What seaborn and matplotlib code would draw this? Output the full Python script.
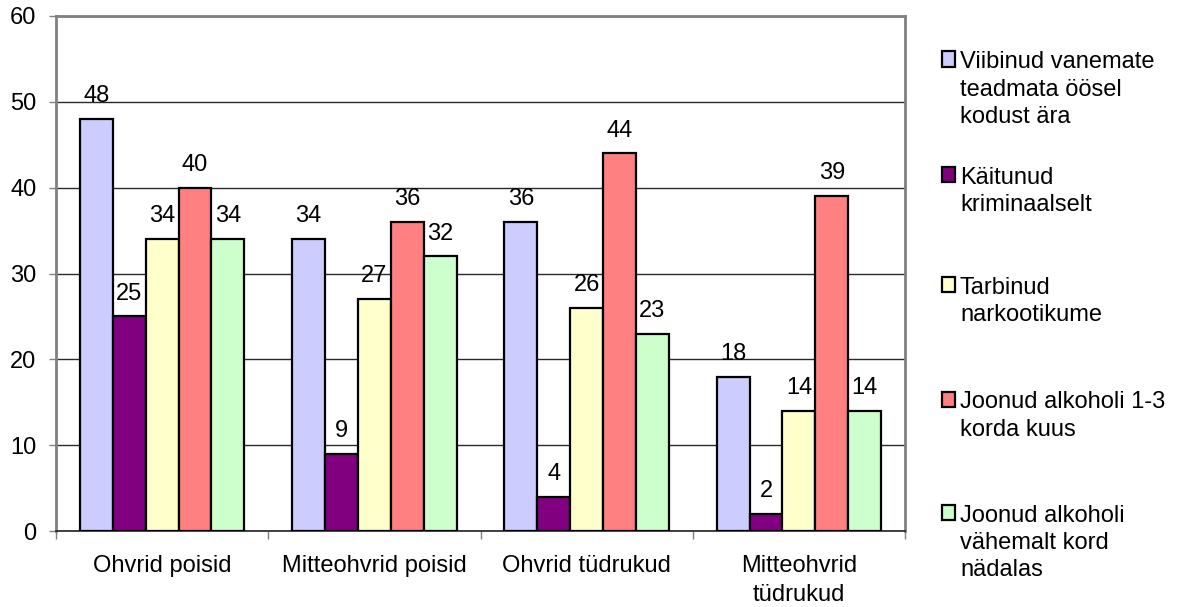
import matplotlib
matplotlib.use("Agg")
import matplotlib.pyplot as plt
from matplotlib.patches import Rectangle
from matplotlib.ticker import FixedLocator
import seaborn as sns
import pandas as pd

categories = ["Ohvrid poisid", "Mitteohvrid poisid", "Ohvrid tüdrukud", "Mitteohvrid\ntüdrukud"]
series = [
    "Viibinud vanemate\nteadmata öösel\nkodust ära",
    "Käitunud\nkriminaalselt",
    "Tarbinud\nnarkootikume",
    "Joonud alkoholi 1-3\nkorda kuus",
    "Joonud alkoholi\nvähemalt kord\nnädalas",
]
values = [
    [48, 34, 36, 18],
    [25, 9, 4, 2],
    [34, 27, 26, 14],
    [40, 36, 44, 39],
    [34, 32, 23, 14],
]
colors = ["#CCCCFF", "#800080", "#FFFFCC", "#FF8080", "#CCFFCC"]
yticks = [0, 10, 20, 30, 40, 50, 60]

rows = []
for s, vals in zip(series, values):
    for c, v in zip(categories, vals):
        rows.append({"cat": c, "series": s, "value": v})
df = pd.DataFrame(rows)

sns.set_theme(style="white")
plt.rcParams["font.family"] = ["Liberation Sans", "DejaVu Sans"]
FS = 17

fig = plt.figure(figsize=(11.79, 6.07), dpi=100)
ax = fig.add_axes([56 / 1179, 1 - 531 / 607, (905 - 56) / 1179, (531 - 16) / 607])

sns.barplot(data=df, x="cat", y="value", hue="series", order=categories,
            hue_order=series, palette=colors, width=0.775, gap=0,
            edgecolor="black", linewidth=1.6, saturation=1, ax=ax, legend=False,
            zorder=3)

for cont in ax.containers:
    ax.bar_label(cont, padding=8.5, fontsize=FS, color="black")

ax.set_xlim(-0.5, 3.5)
ax.set_ylim(0, 60)
ax.set_yticks(yticks)
ax.set_yticklabels([str(t) for t in yticks], fontsize=FS, color="black")
ax.yaxis.grid(True, color="#2a2a2a", linewidth=1.0, zorder=0)
ax.set_axisbelow(True)
ax.set_xlabel("")
ax.set_ylabel("")
ax.tick_params(axis="y", which="major", direction="out", length=5, width=1,
               color="#808080", pad=9, left=True)
ax.tick_params(axis="x", which="major", length=0, pad=17, labelsize=FS, labelcolor="black")
ax.xaxis.set_minor_locator(FixedLocator([-0.5, 0.5, 1.5, 2.5, 3.5]))
ax.tick_params(axis="x", which="minor", direction="out", length=6, width=1,
               color="#808080", bottom=True)
for lbl in ax.get_xticklabels():
    lbl.set_linespacing(1.45)

for side in ["top", "right", "left"]:
    ax.spines[side].set_color("#808080")
    ax.spines[side].set_linewidth(2)
ax.spines["bottom"].set_color("#222222")
ax.spines["bottom"].set_linewidth(1.2)

# legend drawn manually to match the original layout
first_line_centers = [59, 174, 284, 399, 512]
for s, col, yc in zip(series, colors, first_line_centers):
    fig.add_artist(Rectangle((942 / 1179, 1 - (yc + 7.5) / 607), 13 / 1179, 15 / 607,
                             transform=fig.transFigure, facecolor=col,
                             edgecolor="black", linewidth=1.6))
    fig.text(960 / 1179, 1 - (yc - 7.5) / 607, s, fontsize=FS, va="top", ha="left",
             linespacing=1.32, color="black")

fig.savefig("out.png", dpi=100, facecolor="white")
